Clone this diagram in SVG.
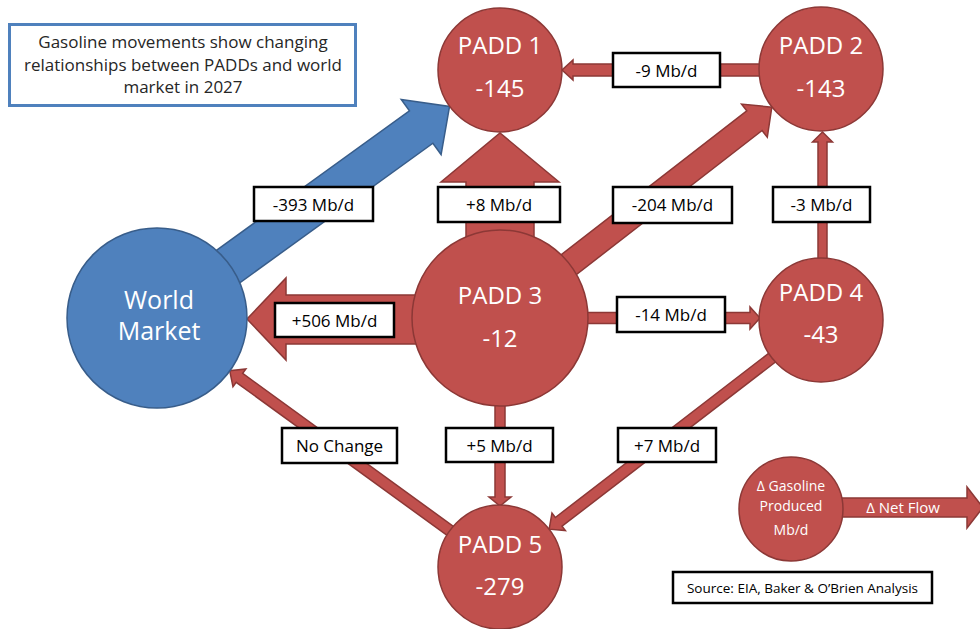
<svg xmlns="http://www.w3.org/2000/svg" width="980" height="629" viewBox="0 0 980 629">
<style>
.red{fill:#C0504D;stroke:#8C3836;stroke-width:1.5}
.blue{fill:#4F81BD;stroke:#385D8A;stroke-width:1.5}
.nt{font-family:"Open Sans","Liberation Sans",sans-serif;fill:#FFFFFF;text-anchor:middle}
.big{font-size:24px}
.lb rect{fill:#FFFFFF;stroke:#000000;stroke-width:2.5}
.lb text{font-family:"Open Sans","Liberation Sans",sans-serif;font-size:17px;fill:#000000;text-anchor:middle}
.title{font-family:"Open Sans","Liberation Sans",sans-serif;font-size:17px;fill:#262626;text-anchor:middle}
</style>
<rect width="980" height="629" fill="#FFFFFF"/>
<g id="title">
<rect x="9.5" y="24.5" width="346" height="81" fill="#FFFFFF" stroke="#4F81BD" stroke-width="3"/>
<text class="title" x="183" y="48">Gasoline movements show changing</text>
<text class="title" x="183" y="70.5">relationships between PADDs and world</text>
<text class="title" x="183" y="93">market in 2027</text>
</g>
<g id="connectors">
<polygon class="blue" transform="translate(157,318) rotate(-35.87)" points="0,-20 326,-20 326,-34 361,0 326,34 326,20 0,20"/>
<polygon class="red" transform="translate(500,318) rotate(-37.8)" points="0,-12.5 322,-12.5 322,-21 344,0 322,21 322,12.5 0,12.5"/>
<polygon class="red" transform="translate(500,567) rotate(-144.02)" points="0,-5.5 322,-5.5 322,-11 334,0 322,11 322,5.5 0,5.5"/>
<polygon class="red" transform="translate(821,320) rotate(142.42)" points="0,-5.5 331,-5.5 331,-11 343,0 331,11 331,5.5 0,5.5"/>
<polygon class="red" points="821,64 573,64 573,60 562,70 573,80 573,76 821,76"/>
<polygon class="red" points="500,312.5 750,312.5 750,307 760,318 750,329 750,323.5 500,323.5"/>
<polygon class="red" points="818,320 818,142 812.5,142 822.5,132 832.5,142 827,142 827,320"/>
<polygon class="red" points="495,318 495,497 489,497 500,506 511,497 505,497 505,318"/>
<polygon class="red" points="420,295 286,295 286,278 247,319 286,360 286,344 420,344"/>
<polygon class="red" points="466,250 466,182 441,182 500,133 559,182 534,182 534,250"/>
<polygon class="red" points="791,498 967,498 967,487 983,507.5 967,528 967,517 791,517"/>
</g>
<g id="world-market">
<circle class="blue" cx="157" cy="318" r="90"/>
<text class="nt" x="159" y="309" font-size="25">World</text>
<text class="nt" x="159" y="340" font-size="25">Market</text>
</g>
<g id="padd1">
<circle class="red" cx="500" cy="70" r="62"/>
<text class="nt big" x="500" y="54">PADD 1</text>
<text class="nt big" x="500" y="97">-145</text>
</g>
<g id="padd2">
<circle class="red" cx="821" cy="69" r="62"/>
<text class="nt big" x="821" y="54">PADD 2</text>
<text class="nt big" x="821" y="97">-143</text>
</g>
<g id="padd3">
<circle class="red" cx="500" cy="318" r="88"/>
<text class="nt big" x="500" y="304">PADD 3</text>
<text class="nt big" x="500" y="347">-12</text>
</g>
<g id="padd4">
<circle class="red" cx="821" cy="320" r="62"/>
<text class="nt big" x="821" y="301">PADD 4</text>
<text class="nt big" x="821" y="343">-43</text>
</g>
<g id="padd5">
<circle class="red" cx="500" cy="567" r="62"/>
<text class="nt big" x="500" y="553">PADD 5</text>
<text class="nt big" x="500" y="595">-279</text>
</g>
<g id="legend">
<circle class="red" cx="791" cy="509" r="52"/>
<text class="nt" x="791" y="491" font-size="14">Δ Gasoline</text>
<text class="nt" x="791" y="511" font-size="14">Produced</text>
<text class="nt" x="791" y="535" font-size="14">Mb/d</text>
<text class="nt" x="903" y="513" font-size="15">Δ Net Flow</text>
</g>
<g id="labels" class="lb">
<rect x="254" y="187" width="119" height="34"/><text x="313.5" y="210.5">-393 Mb/d</text>
<rect x="438" y="187" width="122" height="35"/><text x="499" y="211">+8 Mb/d</text>
<rect x="613" y="187" width="119" height="36"/><text x="672.5" y="211">-204 Mb/d</text>
<rect x="773" y="187" width="97" height="35"/><text x="821.5" y="211">-3 Mb/d</text>
<rect x="613" y="53" width="107" height="34"/><text x="666.5" y="76.5">-9 Mb/d</text>
<rect x="275" y="303" width="119" height="34"/><text x="334.5" y="326.5">+506 Mb/d</text>
<rect x="617" y="297" width="108" height="35"/><text x="671" y="321">-14 Mb/d</text>
<rect x="282" y="428" width="115" height="35"/><text x="339.5" y="452">No Change</text>
<rect x="446" y="428" width="107" height="34"/><text x="499.5" y="451.5">+5 Mb/d</text>
<rect x="618" y="428" width="98" height="34"/><text x="667" y="451.5">+7 Mb/d</text>
<rect x="673" y="572" width="259" height="31"/><text x="802.5" y="592.5" style="font-size:13.5px">Source: EIA, Baker &amp; O’Brien Analysis</text>
</g>
</svg>
